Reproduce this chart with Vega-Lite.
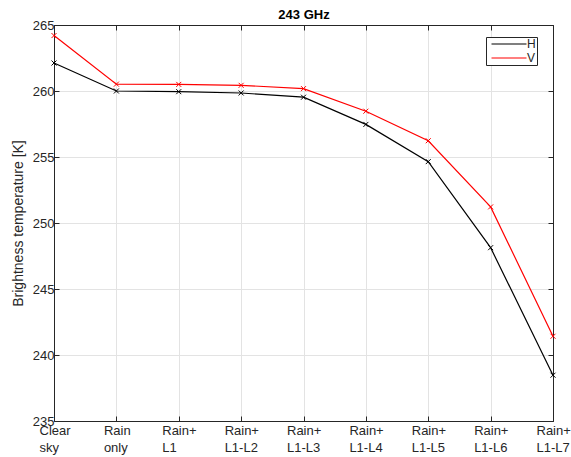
{
  "$schema": "https://vega.github.io/schema/vega-lite/v6.json",
  "width": 499,
  "height": 396,
  "autosize": {"type": "none"},
  "padding": {"left": 54, "top": 25, "right": 18, "bottom": 36},
  "background": "white",
  "config": {
    "view": {"stroke": "#262626", "strokeWidth": 1},
    "axis": {"labelFont": "Liberation Sans", "titleFont": "Liberation Sans", "labelColor": "#262626", "titleColor": "#262626", "domainColor": "#262626", "tickColor": "#262626", "gridColor": "#e3e3e3", "gridWidth": 1, "tickSize": -5, "labelFontSize": 13, "titleFontSize": 14, "titleFontWeight": "normal"}
  },
  "data": {"values": [
    {"cond": "Clear sky", "pol": "H", "tb": 262.12},
    {"cond": "Rain only", "pol": "H", "tb": 260.0},
    {"cond": "Rain+ L1", "pol": "H", "tb": 259.95},
    {"cond": "Rain+ L1-L2", "pol": "H", "tb": 259.85},
    {"cond": "Rain+ L1-L3", "pol": "H", "tb": 259.53},
    {"cond": "Rain+ L1-L4", "pol": "H", "tb": 257.47},
    {"cond": "Rain+ L1-L5", "pol": "H", "tb": 254.65},
    {"cond": "Rain+ L1-L6", "pol": "H", "tb": 248.13},
    {"cond": "Rain+ L1-L7", "pol": "H", "tb": 238.47},
    {"cond": "Clear sky", "pol": "V", "tb": 264.2},
    {"cond": "Rain only", "pol": "V", "tb": 260.52},
    {"cond": "Rain+ L1", "pol": "V", "tb": 260.5},
    {"cond": "Rain+ L1-L2", "pol": "V", "tb": 260.43},
    {"cond": "Rain+ L1-L3", "pol": "V", "tb": 260.18},
    {"cond": "Rain+ L1-L4", "pol": "V", "tb": 258.47},
    {"cond": "Rain+ L1-L5", "pol": "V", "tb": 256.23},
    {"cond": "Rain+ L1-L6", "pol": "V", "tb": 251.22},
    {"cond": "Rain+ L1-L7", "pol": "V", "tb": 241.42}
  ]},
  "resolve": {"axis": {"x": "independent", "y": "independent"}},
  "layer": [
    {
      "mark": {"type": "line", "strokeWidth": 1.2},
      "encoding": {
        "x": {"field": "cond", "type": "ordinal", "sort": null, "scale": {"type": "point", "padding": 0},
          "axis": {"orient": "bottom", "title": null, "labelAngle": 0, "grid": true, "labelExpr": "split(datum.label, ' ')", "labelLineHeight": 17, "labelAlign": "left", "labelBaseline": "top", "labelPadding": 8,
            "labelOffset": {"condition": [{"test": "datum.value == 'Clear sky'", "value": -15}, {"test": "datum.value == 'Rain only'", "value": -13}], "value": -17}}},
        "y": {"field": "tb", "type": "quantitative", "scale": {"domain": [235, 265], "nice": false, "zero": false},
          "axis": {"orient": "left", "title": "Brightness temperature [K]", "values": [235, 240, 245, 250, 255, 260, 265], "grid": true, "labelPadding": 5, "titlePadding": 7}},
        "color": {"field": "pol", "type": "nominal", "scale": {"domain": ["H", "V"], "range": ["#000000", "#ff0000"]},
          "legend": {"title": null, "orient": "none", "legendX": 432, "legendY": 12, "strokeColor": "#262626", "fillColor": "white", "padding": 1, "rowPadding": 2,
            "symbolType": "M-3.5,0H3.5", "symbolSize": 100, "symbolStrokeWidth": 1.2, "symbolOffset": 16, "labelOffset": 12, "labelFontSize": 12, "labelFont": "Liberation Sans", "labelColor": "#262626"}}
      }
    },
    {
      "mark": {"type": "point", "shape": "M-1,-1L1,1M-1,1L1,-1", "filled": false, "size": 25, "strokeWidth": 1, "opacity": 1},
      "encoding": {
        "x": {"field": "cond", "type": "ordinal", "sort": null, "scale": {"type": "point", "padding": 0},
          "axis": {"orient": "top", "title": "243 GHz", "titleFontWeight": "bold", "titleFontSize": 13, "titleColor": "#000000", "titleBaseline": "alphabetic", "titlePadding": 6, "labels": false, "grid": false}},
        "y": {"field": "tb", "type": "quantitative", "scale": {"domain": [235, 265], "nice": false, "zero": false},
          "axis": {"orient": "right", "title": null, "labels": false, "grid": false, "values": [235, 240, 245, 250, 255, 260, 265]}},
        "color": {"field": "pol", "type": "nominal", "scale": {"domain": ["H", "V"], "range": ["#000000", "#ff0000"]}, "legend": null}
      }
    }
  ]
}
